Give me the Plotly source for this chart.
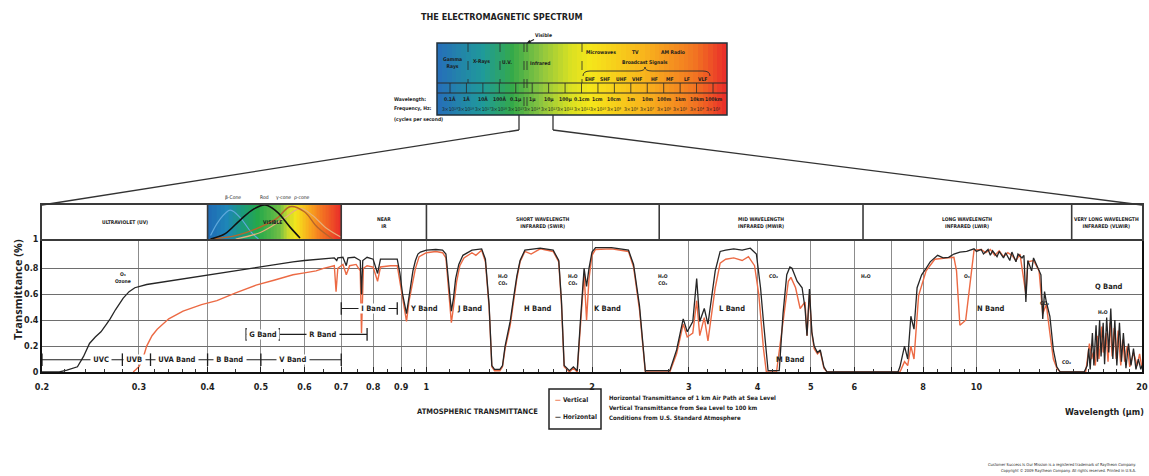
import math
import plotly.graph_objects as go

W, H = 1149, 476
FONT = ("Liberation Sans Narrow, DejaVu Sans Condensed, Noto Sans Condensed, "
        "Open Sans Condensed, Liberation Sans, Arial, DejaVu Sans, sans-serif")
INK = "#1e1e1e"
ORANGE = "#ec6a44"
BLACK = "#262626"

# ---------------- data: atmospheric transmittance ----------------
wl_horizontal = [
    0.200, 0.215, 0.222, 0.232, 0.238, 0.244, 0.250, 0.256, 0.262, 0.266,
    0.272, 0.276, 0.281, 0.288, 0.295, 0.310, 0.338, 0.370, 0.400, 0.450,
    0.490, 0.530, 0.572, 0.600, 0.640, 0.680, 0.687, 0.690, 0.705, 0.715,
    0.720, 0.740, 0.758, 0.762, 0.766, 0.780, 0.800, 0.815, 0.825, 0.860,
    0.885, 0.895, 0.905, 0.920, 0.930, 0.935, 0.945, 0.955, 0.965, 0.975,
    1.000, 1.040, 1.070, 1.085, 1.100, 1.110, 1.120, 1.130, 1.145, 1.165,
    1.210, 1.260, 1.280, 1.300, 1.315, 1.330, 1.360, 1.375, 1.390, 1.420,
    1.440, 1.460, 1.480, 1.510, 1.610, 1.700, 1.740, 1.760, 1.780, 1.820,
    1.850, 1.880, 1.905, 1.935, 1.955, 1.975, 2.000, 2.030, 2.170, 2.330,
    2.380, 2.440, 2.500, 2.770, 2.850, 2.930, 2.980, 3.050, 3.100, 3.140,
    3.200, 3.250, 3.350, 3.420, 3.500, 3.620, 3.750, 3.880, 3.980, 4.050,
    4.100, 4.180, 4.380, 4.450, 4.520, 4.580, 4.620, 4.720, 4.820, 4.880,
    4.920, 4.970, 5.020, 5.070, 5.140, 5.200, 5.280, 5.350, 7.200, 7.260,
    7.400, 7.500, 7.600, 7.700, 7.800, 7.950, 8.100, 8.240, 8.500, 8.700,
    8.900, 9.100, 9.330, 9.600, 9.900, 10.00, 10.20, 10.30, 10.50, 10.60,
    10.70, 10.90, 11.00, 11.20, 11.30, 11.50, 11.60, 11.80, 11.90, 12.10,
    12.20, 12.30, 12.40, 12.60, 12.70, 12.90, 13.10, 13.20, 13.30, 13.40,
    13.60, 13.80, 14.00, 14.20, 15.70, 15.90, 16.00, 16.10, 16.25, 16.35,
    16.50, 16.60, 16.75, 16.85, 17.00, 17.10, 17.25, 17.40, 17.55, 17.70,
    17.85, 18.00, 18.20, 18.35, 18.50, 18.70, 18.90, 19.10, 19.30, 19.50,
    19.70, 19.90, 20.00,
]
tr_horizontal = [
    0.000, 0.000, 0.015, 0.040, 0.120, 0.220, 0.270, 0.310, 0.370, 0.410,
    0.480, 0.520, 0.570, 0.620, 0.650, 0.675, 0.700, 0.725, 0.750, 0.785,
    0.810, 0.830, 0.850, 0.860, 0.870, 0.880, 0.860, 0.880, 0.885, 0.820,
    0.880, 0.885, 0.860, 0.600, 0.860, 0.885, 0.870, 0.760, 0.870, 0.870,
    0.870, 0.760, 0.600, 0.450, 0.600, 0.670, 0.780, 0.860, 0.910, 0.925,
    0.940, 0.945, 0.940, 0.910, 0.620, 0.470, 0.570, 0.720, 0.830, 0.900,
    0.940, 0.950, 0.870, 0.520, 0.050, 0.020, 0.020, 0.050, 0.200, 0.390,
    0.570, 0.740, 0.860, 0.940, 0.955, 0.940, 0.860, 0.550, 0.050, 0.010,
    0.040, 0.010, 0.390, 0.800, 0.660, 0.800, 0.925, 0.960, 0.960, 0.940,
    0.830, 0.510, 0.010, 0.010, 0.170, 0.410, 0.310, 0.390, 0.720, 0.390,
    0.490, 0.370, 0.780, 0.930, 0.940, 0.950, 0.940, 0.955, 0.910, 0.650,
    0.390, 0.010, 0.010, 0.450, 0.750, 0.810, 0.800, 0.700, 0.650, 0.490,
    0.280, 0.640, 0.310, 0.200, 0.150, 0.170, 0.040, 0.000, 0.000, 0.040,
    0.200, 0.100, 0.430, 0.330, 0.650, 0.750, 0.800, 0.850, 0.900, 0.880,
    0.885, 0.910, 0.925, 0.930, 0.950, 0.930, 0.945, 0.910, 0.945, 0.900,
    0.935, 0.890, 0.930, 0.880, 0.920, 0.860, 0.925, 0.850, 0.910, 0.880,
    0.900, 0.540, 0.860, 0.780, 0.880, 0.820, 0.750, 0.410, 0.620, 0.540,
    0.430, 0.170, 0.040, 0.000, 0.000, 0.050, 0.180, 0.020, 0.300, 0.050,
    0.360, 0.080, 0.400, 0.120, 0.380, 0.060, 0.420, 0.150, 0.490, 0.100,
    0.400, 0.050, 0.380, 0.080, 0.300, 0.030, 0.220, 0.050, 0.180, 0.020,
    0.100, 0.020, 0.050,
]
wl_vertical = [
    0.293, 0.300, 0.305, 0.310, 0.317, 0.324, 0.340, 0.361, 0.390, 0.416,
    0.450, 0.490, 0.530, 0.572, 0.600, 0.630, 0.650, 0.680, 0.685, 0.690,
    0.705, 0.715, 0.725, 0.745, 0.758, 0.762, 0.768, 0.780, 0.800, 0.815,
    0.825, 0.860, 0.885, 0.895, 0.905, 0.920, 0.930, 0.940, 0.955, 0.970,
    1.000, 1.040, 1.070, 1.085, 1.100, 1.110, 1.120, 1.135, 1.150, 1.170,
    1.210, 1.230, 1.260, 1.280, 1.300, 1.315, 1.330, 1.360, 1.375, 1.390,
    1.420, 1.440, 1.460, 1.480, 1.510, 1.550, 1.610, 1.700, 1.740, 1.760,
    1.780, 1.820, 1.850, 1.880, 1.905, 1.935, 1.955, 1.975, 2.000, 2.030,
    2.170, 2.330, 2.380, 2.440, 2.500, 2.770, 2.850, 2.930, 2.980, 3.050,
    3.100, 3.140, 3.200, 3.250, 3.350, 3.420, 3.500, 3.620, 3.750, 3.850,
    3.950, 4.020, 4.100, 4.150, 4.330, 4.470, 4.550, 4.600, 4.690, 4.780,
    4.880, 4.920, 4.970, 5.020, 5.070, 5.140, 5.200, 5.280, 5.350, 7.260,
    7.400, 7.500, 7.600, 7.700, 7.850, 8.100, 8.400, 8.800, 9.100, 9.200,
    9.330, 9.560, 9.730, 9.900, 10.20, 10.40, 10.60, 10.80, 11.00, 11.20,
    11.40, 11.60, 11.80, 12.00, 12.30, 12.40, 12.70, 13.00, 13.20, 13.40,
    13.60, 13.80, 14.00, 14.20, 15.80, 15.90, 16.05, 16.20, 16.30, 16.45,
    16.60, 16.70, 16.90, 17.00, 17.20, 17.35, 17.50, 17.65, 17.80, 17.95,
    18.10, 18.30, 18.45, 18.60, 18.80, 19.00, 19.30, 19.60, 19.80, 20.00,
]
tr_vertical = [
    0.000, 0.040, 0.100, 0.200, 0.280, 0.330, 0.410, 0.470, 0.520, 0.550,
    0.610, 0.670, 0.710, 0.750, 0.765, 0.780, 0.800, 0.820, 0.620, 0.800,
    0.830, 0.750, 0.820, 0.830, 0.780, 0.300, 0.800, 0.820, 0.810, 0.700,
    0.810, 0.820, 0.820, 0.700, 0.550, 0.390, 0.550, 0.660, 0.800, 0.890,
    0.920, 0.930, 0.920, 0.880, 0.550, 0.380, 0.500, 0.700, 0.820, 0.880,
    0.920, 0.900, 0.940, 0.850, 0.500, 0.040, 0.010, 0.010, 0.040, 0.180,
    0.360, 0.550, 0.720, 0.850, 0.930, 0.910, 0.950, 0.930, 0.850, 0.520,
    0.040, 0.000, 0.030, 0.000, 0.350, 0.760, 0.400, 0.720, 0.900, 0.945,
    0.950, 0.930, 0.810, 0.480, 0.000, 0.000, 0.140, 0.370, 0.270, 0.300,
    0.550, 0.280, 0.420, 0.240, 0.650, 0.840, 0.870, 0.880, 0.860, 0.890,
    0.820, 0.600, 0.180, 0.000, 0.000, 0.430, 0.700, 0.730, 0.650, 0.490,
    0.540, 0.280, 0.600, 0.300, 0.180, 0.140, 0.160, 0.030, 0.000, 0.000,
    0.080, 0.050, 0.200, 0.100, 0.590, 0.780, 0.870, 0.880, 0.885, 0.780,
    0.360, 0.400, 0.650, 0.940, 0.945, 0.920, 0.945, 0.900, 0.935, 0.890,
    0.920, 0.900, 0.860, 0.910, 0.600, 0.850, 0.860, 0.780, 0.450, 0.520,
    0.300, 0.100, 0.030, 0.000, 0.000, 0.080, 0.220, 0.100, 0.150, 0.050,
    0.280, 0.100, 0.350, 0.150, 0.300, 0.080, 0.380, 0.120, 0.340, 0.100,
    0.320, 0.050, 0.250, 0.080, 0.200, 0.040, 0.150, 0.050, 0.140, 0.030,
]

# ---------------- axes ticks ----------------
x_tick_vals = [0.2, 0.3, 0.4, 0.5, 0.6, 0.7, 0.8, 0.9, 1, 2, 3, 4, 5, 6, 7, 8, 9, 10, 20]
x_tick_text = ["0.2", "0.3", "0.4", "0.5", "0.6", "0.7", "0.8", "0.9", "1", "2", "3", "4",
               "5", "6", "", "8", "", "10", "20"]
x_minor_vals = [0.22, 0.24, 0.26, 0.28, 0.32, 0.34, 0.36, 0.38, 0.45, 0.55, 0.65, 0.75, 0.85,
                0.95, 1.1, 1.2, 1.3, 1.4, 1.5, 1.6, 1.7, 1.8, 1.9, 2.25, 2.5, 2.75, 3.25, 3.5,
                3.75, 4.25, 4.5, 4.75, 5.5, 6.5, 7.5, 8.5, 9.5, 11, 12, 13, 14, 15, 16, 17, 18, 19]
y_tick_vals = [0, 0.2, 0.4, 0.6, 0.8, 1.026]
y_tick_text = ["0", "0.2", "0.4", "0.6", "0.8", "1"]
y_top = 1.026

# ---------------- spectral regions (header strip) ----------------
region_edges = [0.2, 0.4, 0.7, 1.0, 2.65, 6.22, 14.9, 20]
region_names = ["ULTRAVIOLET (UV)", "", "NEAR<br>IR", "SHORT WAVELENGTH<br>INFRARED (SWIR)",
                "MID WAVELENGTH<br>INFRARED (MWIR)", "LONG WAVELENGTH<br>INFRARED (LWIR)",
                "VERY LONG WAVELENGTH<br>INFRARED (VLWIR)"]
visible_range = [0.40, 0.70]
cone_labels = ["β-Cone", "Rod", "γ-cone", "ρ-cone"]
cone_label_wl = [0.445, 0.508, 0.550, 0.594]
beta_wl = [0.405, 0.420, 0.440, 0.460, 0.480, 0.495]
beta_h = [0.10, 0.55, 0.85, 0.60, 0.20, 0.00]
rod_wl = [0.405, 0.430, 0.458, 0.485, 0.509, 0.535, 0.565, 0.589]
rod_h = [0.00, 0.15, 0.55, 0.88, 1.00, 0.80, 0.35, 0.03]
gamma_wl = [0.405, 0.450, 0.490, 0.534, 0.565, 0.600, 0.633, 0.675]
gamma_h = [0.00, 0.10, 0.30, 0.60, 0.95, 0.80, 0.35, 0.00]
rho_wl = [0.450, 0.500, 0.550, 0.590, 0.620, 0.660, 0.700]
rho_h = [0.00, 0.20, 0.60, 0.90, 0.70, 0.30, 0.05]

# ---------------- photometric bands ----------------
uv_row_edges = [0.2, 0.28, 0.315, 0.4, 0.5, 0.7]
uv_row_labels = ["UVC", "UVB", "UVA Band", "B Band", "V Band"]
uv_row_label_wl = [0.256, 0.295, 0.352, 0.44, 0.572]
uv_row_level = 0.095
gr_row_edges = [0.47, 0.54, 0.78]
gr_row_labels = ["G Band", "R Band"]
gr_row_label_wl = [0.505, 0.649]
gr_row_level = 0.29
i_row_edges = [0.7, 0.885]
i_row_labels = ["I Band"]
i_row_label_wl = [0.80]
i_row_level = 0.49

band_labels = ["Y Band", "J Band", "H Band", "K Band", "L Band", "M Band", "N Band", "Q Band"]
band_label_wl = [0.99, 1.2, 1.59, 2.13, 3.6, 4.6, 10.6, 17.4]
band_label_tr = [0.49, 0.49, 0.49, 0.49, 0.49, 0.095, 0.49, 0.656]

gas_labels = ["O₃<br>Ozone", "H₂O<br>CO₂", "H₂O<br>CO₂", "H₂O<br>CO₂", "CO₂", "H₂O", "O₃",
              "CO₂", "H₂O", "CO₂"]
gas_label_wl = [0.281, 1.376, 1.85, 2.69, 4.28, 6.3, 9.6, 13.3, 17.0, 14.6]
gas_label_tr = [0.727, 0.71, 0.71, 0.71, 0.743, 0.743, 0.743, 0.53, 0.466, 0.08]

# ---------------- EM spectrum strip ----------------
em_wavelengths = ["0.1Å", "1Å", "10Å", "100Å", "0.1µ", "1µ", "10µ", "100µ", "0.1cm", "1cm",
                  "10cm", "1m", "10m", "100m", "1km", "10km", "100km"]
em_frequencies = ["3×10¹⁹", "3×10¹⁸", "3×10¹⁷", "3×10¹⁶", "3×10¹⁵", "3×10¹⁴", "3×10¹³",
                  "3×10¹²", "3×10¹¹", "3×10¹⁰", "3×10⁹", "3×10⁸", "3×10⁷", "3×10⁶", "3×10⁵",
                  "3×10⁴", "3×10³"]
em_radio_bands = ["EHF", "SHF", "UHF", "VHF", "HF", "MF", "LF", "VLF"]


def px(x):
    return x / W


def py(y):
    return 1 - y / H


L10 = math.log10
PLOT_L, PLOT_R, PLOT_T, PLOT_B, HEAD_T = 42, 1142, 239, 372, 205
EM_L, EM_R, EM_T, EM_B = 437, 727, 43, 115

fig = go.Figure()

# EM spectrum gradient
em_x = [i / 60 for i in range(61)]
fig.add_trace(go.Heatmap(
    x=em_x, y=[0, 1], z=[em_x[:-1]], xaxis="x3", yaxis="y3", zmin=0, zmax=1, showscale=False,
    hoverinfo="skip",
    colorscale=[[0, "#2670b8"], [0.15, "#1f9a9a"], [0.25, "#34a94a"], [0.35, "#8cc540"],
                [0.45, "#d8e023"], [0.52, "#f5e61a"], [0.7, "#f8b61c"], [0.88, "#f27522"],
                [1, "#e8262a"]]))

# visible strip gradient in header
vis_x = [visible_range[0] + (visible_range[1] - visible_range[0]) * i / 40 for i in range(41)]
fig.add_trace(go.Heatmap(
    x=vis_x, y=[0, 1], z=[vis_x[:-1]], xaxis="x2", yaxis="y2", zmin=0.4, zmax=0.7,
    showscale=False, hoverinfo="skip",
    colorscale=[[0, "#1f6db5"], [0.1, "#1e86b8"], [0.2, "#1b9a7a"], [0.3, "#25a84b"],
                [0.45, "#6cbd45"], [0.52, "#c7d92e"], [0.58, "#f4e61b"], [0.7, "#f8a51e"],
                [0.82, "#f26d23"], [1, "#e8262a"]]))

for cw, ch, col, wd in [(beta_wl, beta_h, "#5fa8dc", 1.2), (rho_wl, rho_h, "#e6b07a", 1.2),
                        (gamma_wl, gamma_h, "#b8652a", 1.4), (rod_wl, rod_h, "#111111", 1.6)]:
    fig.add_trace(go.Scatter(x=cw, y=ch, xaxis="x2", yaxis="y2", mode="lines",
                             line=dict(color=col, width=wd, shape="spline"),
                             showlegend=False, hoverinfo="skip"))

# header separators
sep_x, sep_y = [], []
for e in region_edges[1:-1]:
    sep_x += [e, e, None]
    sep_y += [0, 1, None]
fig.add_trace(go.Scatter(x=sep_x, y=sep_y, xaxis="x2", yaxis="y2", mode="lines",
                         line=dict(color="#3a3a3a", width=1.6), showlegend=False, hoverinfo="skip"))

# transmittance curves
fig.add_trace(go.Scatter(x=wl_vertical, y=tr_vertical, name="Vertical", mode="lines",
                         line=dict(color=ORANGE, width=1.4), showlegend=False))
fig.add_trace(go.Scatter(x=wl_horizontal, y=tr_horizontal, name="Horizontal", mode="lines",
                         line=dict(color=BLACK, width=1.3), showlegend=False))

# band rows
for edges, level in [(uv_row_edges, uv_row_level), (gr_row_edges, gr_row_level),
                     (i_row_edges, i_row_level)]:
    fig.add_trace(go.Scatter(x=edges, y=[level] * len(edges), mode="lines+markers",
                             line=dict(color=INK, width=1.1),
                             marker=dict(symbol="line-ns", size=9, line=dict(color=INK, width=1.3)),
                             cliponaxis=False, showlegend=False, hoverinfo="skip"))

annotations = []


def note(x, y, text, size=6, color=INK, bold=True, xanchor="center", family=FONT, **kw):
    annotations.append(dict(xref="paper", yref="paper", x=px(x), y=py(y), text=text,
                            showarrow=False, xanchor=xanchor, yanchor="middle",
                            font=dict(family=family, size=size, color=color,
                                      weight="bold" if bold else "normal"), **kw))


def data_note(wl, tr, text, size=8, bg=None, ref=("x", "y")):
    d = dict(xref=ref[0], yref=ref[1], x=L10(wl), y=tr, text=text, showarrow=False,
             xanchor="center", yanchor="middle",
             font=dict(family=FONT, size=size, color=INK, weight="bold"))
    if bg:
        d["bgcolor"] = bg
        d["borderpad"] = 0
    annotations.append(d)


# header region names
for i, name in enumerate(region_names):
    if name:
        mid = 10 ** ((L10(region_edges[i]) + L10(region_edges[i + 1])) / 2)
        data_note(mid, 0.5, name, size=5, ref=("x2", "y2"))
data_note(0.526, 0.5, "VISIBLE", size=5, ref=("x2", "y2"))
for lab, w in zip(cone_labels, cone_label_wl):
    annotations.append(dict(xref="x2", yref="paper", x=L10(w), y=py(197), text=lab,
                            showarrow=False, font=dict(family=FONT, size=5, color=INK)))

# band labels
for labs, wls, lvl in [(uv_row_labels, uv_row_label_wl, uv_row_level),
                       (gr_row_labels, gr_row_label_wl, gr_row_level),
                       (i_row_labels, i_row_label_wl, i_row_level)]:
    for lab, w in zip(labs, wls):
        data_note(w, lvl, " " + lab + " ", size=7.5, bg="white")
for lab, w, t in zip(band_labels, band_label_wl, band_label_tr):
    data_note(w, t, lab, size=7.5)
for lab, w, t in zip(gas_labels, gas_label_wl, gas_label_tr):
    data_note(w, t, lab, size=5)

# EM spectrum texts
note(502, 17, "THE ELECTROMAGNETIC SPECTRUM", size=9)
note(452, 63, "Gamma<br>Rays", size=5)
note(481, 62, "X-Rays", size=5)
note(507, 62, "U.V.", size=5)
note(540, 63, "Infrared", size=5)
note(601, 52, "Microwaves", size=5)
note(635, 52, "TV", size=5)
note(673, 52, "AM Radio", size=5)
note(645, 63, "Broadcast Signals", size=5)
rb_x = [590, 605, 621, 637, 654, 670, 687, 702]
for lab, x in zip(em_radio_bands, rb_x):
    note(x, 79, lab, size=5)
em_pos = [450 + i * (713 - 450) / 16 for i in range(17)]
for lab, fq, x in zip(em_wavelengths, em_frequencies, em_pos):
    note(x, 99, lab, size=5)
    note(x, 109, fq, size=5, bold=False)
note(392, 99, "Wavelength:", size=5, xanchor="left")
note(392, 109, "Frequency, Hz:", size=5, xanchor="left")
note(392, 119, "(cycles per second)", size=5, xanchor="left")
annotations.append(dict(xref="paper", yref="paper", x=px(527), y=py(43), ax=16, ay=-8,
                        text="Visible", showarrow=True, arrowhead=2, arrowsize=0.6,
                        arrowwidth=1.2, arrowcolor=INK,
                        font=dict(family=FONT, size=5, color=INK, weight="bold")))

# axis title and captions
note(17, 290, "Transmittance (%)", size=11, family="Open Sans, DejaVu Sans, sans-serif",
     textangle=-90)
note(540, 411, "ATMOSPHERIC TRANSMITTANCE", size=7.5, xanchor="right")
note(607, 397, "Horizontal Transmittance of 1 km Air Path at Sea Level", size=6, xanchor="left")
note(607, 407, "Vertical Transmittance from Sea Level to 100 km", size=6, xanchor="left")
note(607, 418, "Conditions from U.S. Standard Atmosphere", size=6, xanchor="left")
note(1104, 412, "Wavelength (µm)", size=9)
note(553, 400, "<span style='color:%s'>—</span> Vertical" % ORANGE, size=6.5, xanchor="left")
note(553, 417, "<span style='color:%s'>—</span> Horizontal" % BLACK, size=6.5, xanchor="left")
note(1138, 464, "Customer Success Is Our Mission is a registered trademark of Raytheon Company.",
     size=4, xanchor="right", bold=False)
note(1138, 470, "Copyright © 2009 Raytheon Company. All rights reserved. Printed in U.S.A.",
     size=4, xanchor="right", bold=False)

shapes = []


def seg(x0, y0, x1, y1, color="#333333", width=1.0, dash=None):
    shapes.append(dict(type="line", xref="paper", yref="paper", x0=px(x0), y0=py(y0),
                       x1=px(x1), y1=py(y1), line=dict(color=color, width=width, dash=dash)))


# connectors between EM strip and chart
seg(519, EM_B, 519, 130, width=1.3)
seg(553, EM_B, 553, 130, width=1.3)
seg(519, 130, PLOT_L, HEAD_T, width=1.3)
seg(553, 130, PLOT_R, HEAD_T, width=1.3)
# EM strip frame
shapes.append(dict(type="rect", xref="paper", yref="paper", x0=px(EM_L), x1=px(EM_R),
                   y0=py(EM_B), y1=py(EM_T), line=dict(color="#22303a", width=1.5)))
seg(EM_L, 83, EM_R, 83, color="#2a2a2a", width=1)
seg(EM_L, 93, EM_R, 93, color="#2a2a2a", width=1)
for x in em_pos:
    seg(x, 83, x, 93, color="#2a2a2a", width=0.8)
for x in [468, 500, 582]:
    seg(x, EM_T, x, 83, color="#2a2a2a", width=0.8, dash="dash")
for x in [524, 527]:
    seg(x, EM_T, x, EM_B, color="#2a2a2a", width=0.8, dash="dash")
brace = [(583, 76), (583, 71), (590, 71), (638, 71), (645, 71), (645, 67), (645, 71), (652, 71),
         (703, 71), (710, 71), (710, 76)]
path = "M %f,%f Q %f,%f %f,%f L %f,%f Q %f,%f %f,%f Q %f,%f %f,%f L %f,%f Q %f,%f %f,%f" % tuple(
    v for p in brace for v in (px(p[0]), py(p[1])))
shapes.append(dict(type="path", xref="paper", yref="paper", path=path,
                   line=dict(color="#2a2a2a", width=0.9)))
# legend box
shapes.append(dict(type="rect", xref="paper", yref="paper", x0=px(549), x1=px(601),
                   y0=py(429), y1=py(389), line=dict(color="#222222", width=1.5)))

axis_font = dict(family=FONT, size=9, color=INK, weight="bold")
fig.update_layout(
    template="none",
    width=W, height=H, autosize=False,
    margin=dict(l=0, r=0, t=0, b=0),
    paper_bgcolor="white", plot_bgcolor="white",
    showlegend=False,
    xaxis=dict(domain=[px(PLOT_L), px(PLOT_R)], anchor="y", type="log",
               range=[L10(0.2), L10(20)], tickmode="array", tickvals=x_tick_vals,
               ticktext=x_tick_text, showgrid=True, gridcolor="#8c8c8c", gridwidth=1,
               showline=True, linecolor="#111111", linewidth=2, ticks="inside", ticklen=5,
               tickcolor="#222222", tickfont=axis_font, ticklabelstandoff=5, zeroline=False,
               automargin=False,
               minor=dict(tickmode="array", tickvals=x_minor_vals, ticks="inside", ticklen=3,
                          tickcolor="#333333", showgrid=False)),
    yaxis=dict(domain=[py(PLOT_B), py(PLOT_T)], anchor="x", range=[0, y_top],
               tickmode="array", tickvals=y_tick_vals, ticktext=y_tick_text, showgrid=True,
               gridcolor="#6e6e6e", gridwidth=1.2, showline=True, mirror=True,
               linecolor="#111111", linewidth=1.5, ticks="", tickfont=axis_font,
               zeroline=False, automargin=False),
    xaxis2=dict(domain=[px(PLOT_L), px(PLOT_R)], anchor="y2", type="log",
                range=[L10(0.2), L10(20)], showgrid=False, showticklabels=False, ticks="",
                showline=True, mirror=True, linecolor="#3a3a3a", linewidth=2, zeroline=False),
    yaxis2=dict(domain=[py(PLOT_T), py(HEAD_T)], anchor="x2", range=[0, 1], showgrid=False,
                showticklabels=False, ticks="", showline=True, mirror=True,
                linecolor="#3a3a3a", linewidth=1.6, zeroline=False),
    xaxis3=dict(domain=[px(EM_L), px(EM_R)], anchor="y3", range=[0, 1], visible=False),
    yaxis3=dict(domain=[py(EM_B), py(EM_T)], anchor="x3", range=[0, 1], visible=False),
    annotations=annotations,
    shapes=shapes,
)

fig.write_html("out.html")
